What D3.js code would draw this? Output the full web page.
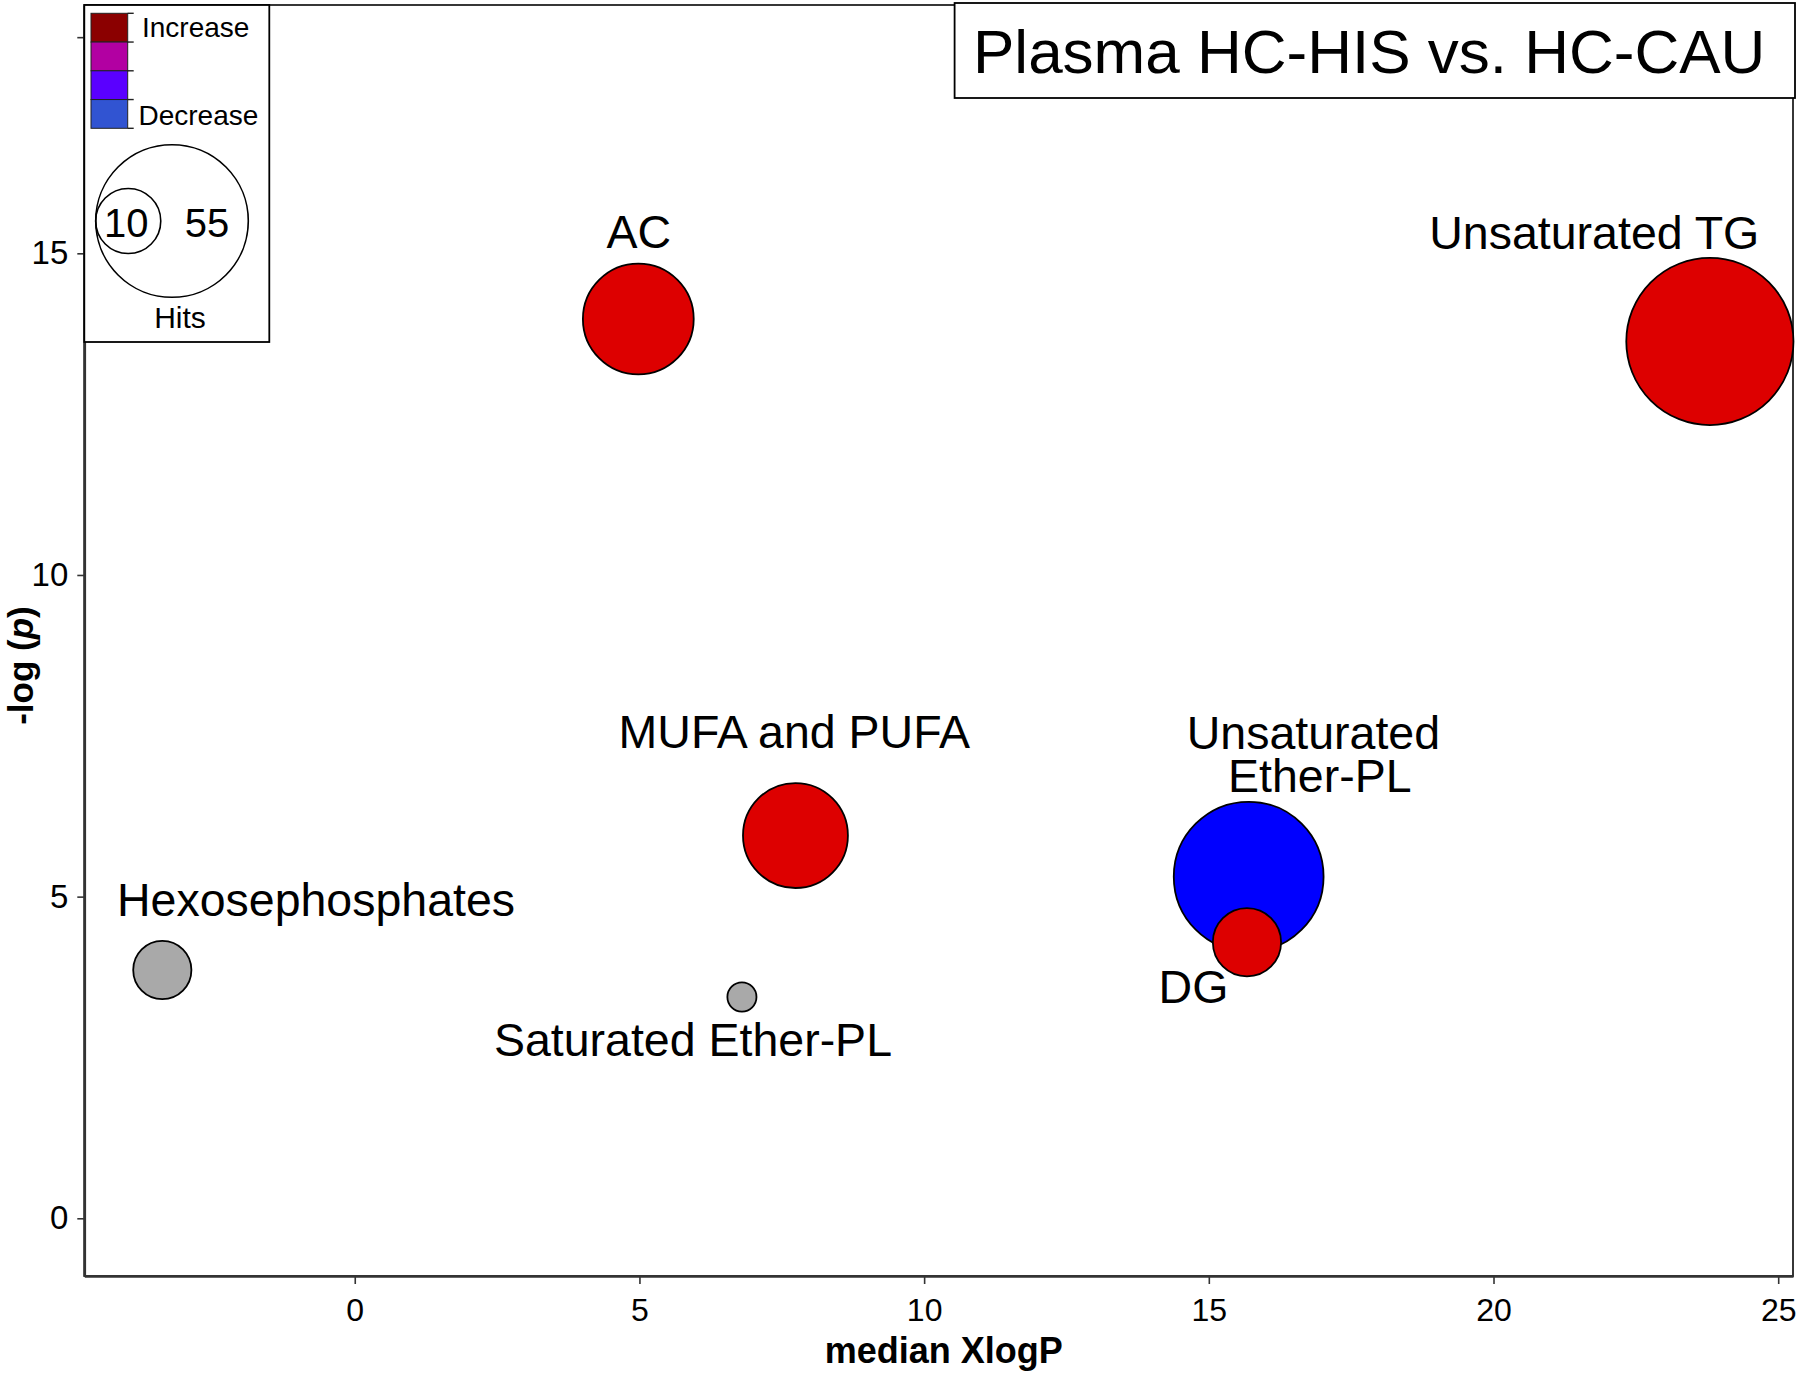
<!DOCTYPE html>
<html>
<head>
<meta charset="utf-8">
<script src="https://cdn.jsdelivr.net/npm/d3@7"></script>
<style>
  html, body { margin: 0; padding: 0; background: #fff; }
  svg { display: block; font-family: "Liberation Sans", Arial, sans-serif; }
</style>
</head>
<body>
<svg id="chart" width="1800" height="1375"></svg>
<script>
// ---- data ----
const categories  = ["AC", "Unsaturated TG", "MUFA and PUFA", "Unsaturated Ether-PL", "DG", "Hexosephosphates", "Saturated Ether-PL"];
const medianXlogP = [4.98, 23.80, 7.74, 15.70, 15.67, -3.38, 6.80];
const negLogP     = [13.98, 13.63, 5.95, 5.31, 4.29, 3.86, 3.44];
const hits        = [29, 66, 26, 53, 11, 8, 2];
const direction   = ["increase", "increase", "increase", "decrease", "increase", "ns", "ns"];
// label anchor positions (data units) and text lines
const labelLines  = [["AC"], ["Unsaturated TG"], ["MUFA and PUFA"], ["Unsaturated\u00A0", "Ether-PL"], ["DG"], ["Hexosephosphates"], ["Saturated Ether-PL"]];
const labelX      = [4.99, 21.77, 7.72, 16.95, 14.73, -0.68, 5.94];
const labelY      = [15.09, 15.07, 7.31, 7.30, 3.35, 4.70, 2.52];

const xTicks = [0, 5, 10, 15, 20, 25];
const yTicks = [0, 5, 10, 15, 18.36];
const yTickLabels = ["0", "5", "10", "15", ""];
const xDomain = [-4.75, 25.26];
const yDomain = [-0.897, 18.86];

const legendColors = ["#8B0000", "#B200A2", "#5A00FF", "#3154D2"];
const legendColorLabels = ["Increase", "", "", "Decrease"];
const legendHits = [10, 55];
const titleText = "Plasma HC-HIS vs. HC-CAU";

const fillFor = { increase: "#DD0000", decrease: "#0000FF", ns: "#A9A9A9" };

// ---- layout ----
const svg = d3.select("#chart");
const P = { left: 84.3, right: 1793, top: 5, bottom: 1276 };

const x = d3.scaleLinear().domain(xDomain).range([P.left, P.right]);
const y = d3.scaleLinear().domain(yDomain).range([P.bottom, P.top]);
const r = d3.scaleSqrt().domain([0, 55]).range([0, 76.3]);

// panel border (top / right)
svg.append("rect")
  .attr("x", P.left).attr("y", P.top)
  .attr("width", P.right - P.left).attr("height", P.bottom - P.top)
  .attr("fill", "none").attr("stroke", "#222").attr("stroke-width", 1.8);

// x axis
const xAxis = d3.axisBottom(x).tickValues(xTicks).tickSize(8).tickSizeOuter(0).tickPadding(14).tickFormat(d3.format("d"));
const gx = svg.append("g").attr("transform", `translate(0,${P.bottom})`).call(xAxis);
gx.select(".domain").attr("stroke", "#333").attr("stroke-width", 2.6);
gx.selectAll(".tick line").attr("stroke", "#333").attr("stroke-width", 1.6);
gx.selectAll(".tick text").attr("font-size", 32).attr("fill", "#000")
  .attr("font-family", "'Liberation Sans', Arial, sans-serif");

// y axis
const yAxis = d3.axisLeft(y).tickValues(yTicks).tickSize(7).tickSizeOuter(0).tickPadding(9)
  .tickFormat((d, i) => yTickLabels[i]);
const gy = svg.append("g").attr("transform", `translate(${P.left},0)`).call(yAxis);
gy.select(".domain").attr("stroke", "#333").attr("stroke-width", 2.6);
gy.selectAll(".tick line").attr("stroke", "#333").attr("stroke-width", 1.6);
gy.selectAll(".tick text").attr("font-size", 33).attr("fill", "#000")
  .attr("font-family", "'Liberation Sans', Arial, sans-serif");

// axis titles
svg.append("text")
  .attr("x", (P.left + P.right) / 2 + 5).attr("y", 1363)
  .attr("text-anchor", "middle").attr("font-size", 36).attr("font-weight", "bold")
  .text("median XlogP");

const yt = svg.append("text")
  .attr("transform", `translate(33,${(P.top + P.bottom) / 2 + 25}) rotate(-90)`)
  .attr("text-anchor", "middle").attr("font-size", 35).attr("font-weight", "bold");
yt.append("tspan").text("-log (");
yt.append("tspan").attr("font-style", "italic").text("p");
yt.append("tspan").text(")");

// bubbles
const data = categories.map((c, i) => ({
  cat: c, x: medianXlogP[i], y: negLogP[i], n: hits[i], dir: direction[i],
  lines: labelLines[i], lx: labelX[i], ly: labelY[i]
}));

svg.append("g").selectAll("circle").data(data).join("circle")
  .attr("cx", d => x(d.x)).attr("cy", d => y(d.y)).attr("r", d => r(d.n))
  .attr("fill", d => fillFor[d.dir]).attr("stroke", "#000").attr("stroke-width", 1.8);

// labels
const lab = svg.append("g").selectAll("text").data(data).join("text")
  .attr("x", d => x(d.lx)).attr("y", d => y(d.ly))
  .attr("text-anchor", "middle").attr("font-size", 46.5).attr("fill", "#000");
lab.each(function(d) {
  const t = d3.select(this);
  d.lines.forEach((ln, k) => {
    t.append("tspan").attr("x", x(d.lx)).attr("dy", k === 0 ? 0 : 43.5).text(ln);
  });
});

// title box
svg.append("rect").attr("x", 954.6).attr("y", 3).attr("width", 1795 - 954.6).attr("height", 95)
  .attr("fill", "#fff").attr("stroke", "#000").attr("stroke-width", 1.8);
svg.append("text").attr("x", 973).attr("y", 73).attr("font-size", 62).attr("fill", "#000")
  .text(titleText);

// legend box
const L = svg.append("g");
L.append("rect").attr("x", P.left).attr("y", P.top).attr("width", 269.3 - P.left).attr("height", 342 - P.top)
  .attr("fill", "#fff").attr("stroke", "#000").attr("stroke-width", 1.8);

const sw = { x: 91, y: 13.3, w: 36.7, h: 28.75 };
legendColors.forEach((c, i) => {
  L.append("rect").attr("x", sw.x).attr("y", sw.y + i * sw.h).attr("width", sw.w).attr("height", sw.h)
    .attr("fill", c).attr("stroke", "#222").attr("stroke-width", 1);
});
d3.range(legendColors.length + 1).forEach(i => {
  L.append("line").attr("x1", sw.x + sw.w).attr("x2", sw.x + sw.w + 6)
    .attr("y1", sw.y + i * sw.h).attr("y2", sw.y + i * sw.h)
    .attr("stroke", "#222").attr("stroke-width", 1.4);
});
L.append("text").attr("x", 142).attr("y", 36.7).attr("font-size", 28).text(legendColorLabels[0]);
L.append("text").attr("x", 138.5).attr("y", 125).attr("font-size", 28).text(legendColorLabels[3]);

// hits size legend
const hcx0 = 95.7, hcy = 221;
const hitsSorted = legendHits.slice().sort((a, b) => b - a);
hitsSorted.forEach(n => {
  L.append("circle").attr("cx", hcx0 + r(n)).attr("cy", hcy).attr("r", r(n))
    .attr("fill", "none").attr("stroke", "#000").attr("stroke-width", 1.6);
});
L.append("text").attr("x", 126.3).attr("y", 237).attr("text-anchor", "middle").attr("font-size", 40).text(String(legendHits[0]));
L.append("text").attr("x", 207).attr("y", 237).attr("text-anchor", "middle").attr("font-size", 40).text(String(legendHits[1]));
L.append("text").attr("x", 180).attr("y", 328).attr("text-anchor", "middle").attr("font-size", 30).text("Hits");
</script>
</body>
</html>
